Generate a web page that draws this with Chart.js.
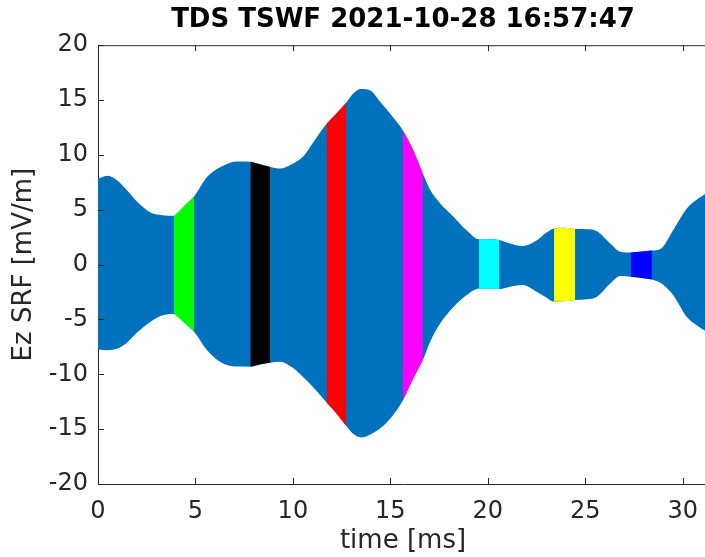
<!DOCTYPE html>
<html>
<head>
<meta charset="utf-8">
<script src="https://cdn.jsdelivr.net/npm/chart.js@4.4.1/dist/chart.umd.min.js"></script>
<style>
  html, body { margin: 0; padding: 0; background: #fff; overflow: hidden; }
  .wrap { width: 716px; height: 557px; position: relative; }
</style>
</head>
<body>
<div class="wrap"><canvas id="wave"></canvas></div>
<script>
// envelope of the Ez waveform, ms / mV/m
const timeMs = [0, 0.5, 1.0, 1.5, 2.0, 2.7, 3.3, 3.9, 4.4, 4.93, 5.6, 6.3, 7.1, 7.82, 8.3, 8.83,
  9.35, 9.9, 10.5, 11.1, 11.74, 12.25, 12.73, 13.1, 13.5, 13.95, 14.5, 15.15, 15.64, 16.17, 16.67,
  17.05, 17.55, 18.25, 18.9, 19.55, 20.07, 20.59, 21.0, 21.8, 22.5, 23.0, 23.4, 23.95, 24.49, 25.1,
  25.6, 26.3, 26.8, 27.35, 27.9, 28.42, 28.9, 29.5, 30.2, 30.7, 31.3];
const upperEnv = [7.85, 8.1, 7.65, 6.75, 5.75, 4.75, 4.5, 4.45, 5.3, 6.2, 8.0, 8.9, 9.4, 9.37, 9.15, 8.9,
  8.75, 9.1, 9.8, 11.3, 12.86, 13.8, 14.75, 15.6, 16.0, 15.9, 14.8, 13.4, 12.25, 10.45, 8.3,
  6.8, 5.6, 4.35, 3.15, 2.3, 2.3, 2.25, 2.0, 1.7, 2.2, 2.9, 3.3, 3.35, 3.25, 3.23,
  3.05, 1.9, 1.17, 1.1, 1.2, 1.28, 1.47, 3.1, 5.1, 5.9, 6.6];
const lowerEnv = [-7.73, -7.8, -7.65, -7.1, -6.2, -5.2, -4.65, -4.5, -5.25, -6.12, -7.8, -8.9, -9.3, -9.31, -9.1, -8.94,
  -8.85, -9.3, -10.2, -11.3, -12.6, -13.6, -14.7, -15.45, -15.75, -15.5, -14.9, -13.7, -12.38, -10.4, -8.7,
  -7.0, -5.4, -3.85, -2.8, -2.17, -2.2, -2.23, -2.08, -1.87, -2.48, -3.0, -3.39, -3.35, -3.23, -3.17,
  -2.93, -1.7, -1.05, -1.11, -1.22, -1.35, -1.7, -2.75, -4.75, -5.5, -6.2];

// highlighted snapshots
const burstStart = [3.9, 7.82, 11.74, 15.64, 19.55, 23.4, 27.35];
const burstEnd = [4.93, 8.83, 12.73, 16.67, 20.59, 24.49, 28.42];
const burstColors = ['#00ff00', '#000000', '#ff0000', '#ff00ff', '#00ffff', '#ffff00', '#0000ff'];

const xTicks = [0, 5, 10, 15, 20, 25, 30];
const yTicks = [-20, -15, -10, -5, 0, 5, 10, 15, 20];

const axisColor = '#262626';
const waveBlue = '#0072bd';

const pts = (env, from, to) => timeMs
  .map((t, i) => ({ x: t, y: env[i] }))
  .filter(p => p.x >= from - 1e-9 && p.x <= to + 1e-9);

const band = (from, to, color) => [
  { data: pts(upperEnv, from, to), backgroundColor: color, fill: '+1' },
  { data: pts(lowerEnv, from, to), backgroundColor: color, fill: false },
];

const datasets = [];
burstStart.forEach((s, i) => datasets.push(...band(s, burstEnd[i], burstColors[i])));
datasets.push(...band(0, 31.3, waveBlue));
datasets.forEach(d => {
  d.borderWidth = 0;
  d.pointRadius = 0;
  d.cubicInterpolationMode = 'monotone';
});

// inward ticks on left, bottom and top, plus the top frame line
const frame = {
  id: 'frame',
  afterDraw(chart) {
    const { ctx, chartArea: a, scales } = chart;
    ctx.save();
    ctx.strokeStyle = axisColor;
    ctx.lineWidth = 1;
    ctx.beginPath();
    ctx.moveTo(a.left, a.top + 0.5);
    ctx.lineTo(a.right, a.top + 0.5);
    xTicks.forEach(v => {
      const x = Math.round(scales.x.getPixelForValue(v)) + 0.5;
      ctx.moveTo(x, a.bottom);
      ctx.lineTo(x, a.bottom - 6);
      ctx.moveTo(x, a.top);
      ctx.lineTo(x, a.top + 6);
    });
    yTicks.forEach(v => {
      const y = Math.round(scales.y.getPixelForValue(v)) + 0.5;
      ctx.moveTo(a.left, y);
      ctx.lineTo(a.left + 6, y);
    });
    ctx.stroke();
    ctx.restore();
  },
};

const tickFont = { family: 'DejaVu Sans', size: 24 };
const labelFont = { family: 'DejaVu Sans', size: 26 };

new Chart(document.getElementById('wave'), {
  type: 'line',
  data: { datasets },
  plugins: [frame],
  options: {
    responsive: true,
    maintainAspectRatio: false,
    animation: false,
    layout: { padding: { right: 8 } },
    plugins: {
      legend: { display: false },
      tooltip: { enabled: false },
      title: {
        display: true,
        text: 'TDS TSWF 2021-10-28 16:57:47',
        fullSize: false,
        color: '#000',
        font: { family: 'DejaVu Sans', size: 26, weight: 'bold' },
        padding: { top: 5, bottom: 9 },
      },
    },
    scales: {
      x: {
        type: 'linear',
        min: 0,
        max: 31.3,
        afterFit: s => { s.height = 73; },
        afterBuildTicks: s => { s.ticks = xTicks.map(v => ({ value: v })); },
        ticks: { color: axisColor, font: tickFont, padding: 13, maxRotation: 0 },
        grid: { drawOnChartArea: false, drawTicks: false },
        border: { color: axisColor, width: 1 },
        title: { display: true, text: 'time [ms]', color: axisColor, font: labelFont, padding: { top: 0, bottom: 0 } },
      },
      y: {
        min: -20,
        max: 20,
        afterFit: s => { s.width = 98; },
        afterBuildTicks: s => { s.ticks = yTicks.map(v => ({ value: v })); },
        ticks: { color: axisColor, font: tickFont, padding: 10 },
        grid: { drawOnChartArea: false, drawTicks: false },
        border: { color: axisColor, width: 1 },
        title: { display: true, text: 'Ez SRF [mV/m]', color: axisColor, font: labelFont, padding: { top: 9, bottom: 0 } },
      },
    },
  },
});
</script>
</body>
</html>
